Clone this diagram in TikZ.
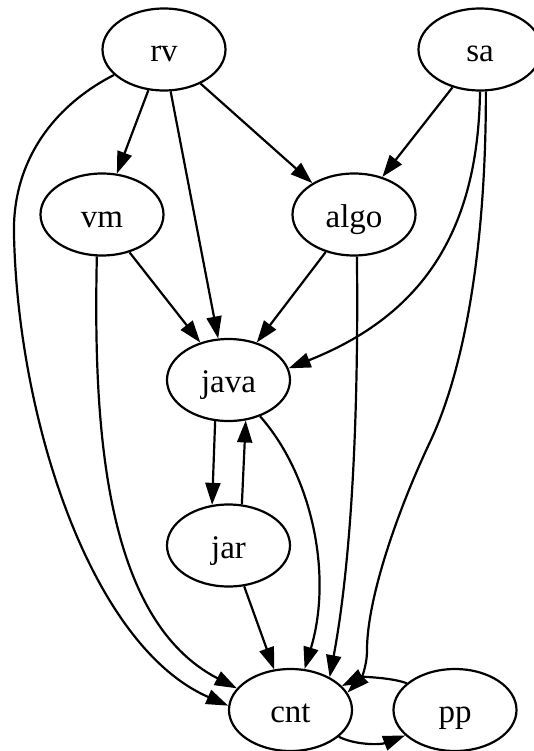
\documentclass[tikz,border=0pt]{standalone}
\usepackage{fontspec}
\setmainfont{Liberation Serif}
\usetikzlibrary{shapes.geometric,arrows.meta}
\begin{document}
\begin{tikzpicture}[x=1pt,y=-1pt,
  vertex/.style={ellipse, draw, line width=2.2pt, minimum width=123pt,
    minimum height=82pt, inner sep=0pt, text height=25pt, text depth=0pt,
    font=\fontsize{33}{33}\selectfont},
  edge/.style={line width=2.2pt, -{Triangle[length=22pt,width=15pt]}}]
\clip (0,0) rectangle (534,751);

% nodes
\node[vertex] (rv)   at (164,49.5)   {rv};
\node[vertex] (sa)   at (480,49.5)   {sa};
\node[vertex] (vm)   at (102,214.5)  {vm};
\node[vertex] (algo) at (354,214.5)  {algo};
\node[vertex] (java) at (228.5,380)  {java};
\node[vertex] (jar)  at (228.5,545.5){jar};
\node[vertex] (cnt)  at (290.5,710)  {cnt};
\node[vertex] (pp)   at (455,710)    {pp};

% edges
\draw[edge] (rv.249) -- (vm.70);
\draw[edge] (rv.279) -- (java.104);
\draw[edge] (rv.317) -- (algo.143);
\draw[edge] (rv.207.5) .. controls (55,105) and (12,160) .. (14,235)
            .. controls (18,420) and (91,646) .. (cnt.176);
\draw[edge] (sa.234) -- (algo.53.7);
\draw[edge] (sa.270) .. controls (478,240) and (415,318) .. (java.11);
\draw[edge] (sa.278) .. controls (486,250) and (464,370) .. (430,442)
            .. controls (396,514) and (367,600) .. (367,650)
            .. controls (367,668) and (360,680) .. (cnt.17);
\draw[edge] (vm.306.7) -- (java.127);
\draw[edge] (vm.263) .. controls (93,430) and (105,620) .. (cnt.158);
\draw[edge] (algo.233) -- (java.53);
\draw[edge] (algo.274) .. controls (359,450) and (348,580) .. (cnt.40);
\draw[edge] (java.252) -- (jar.112);
\draw[edge] (jar.72.4) -- (java.293.6);
\draw[edge] (java.311) .. controls (312,475) and (333,575) .. (cnt.71);
\draw[edge] (jar.291.7) -- (cnt.112.6);
\draw[edge] (cnt.331.4) .. controls (355,745) and (380,745) .. (pp.207.4);
\draw[edge] (pp.151.6) .. controls (390,677) and (360,677) .. (cnt.25.5);
\end{tikzpicture}
\end{document}
